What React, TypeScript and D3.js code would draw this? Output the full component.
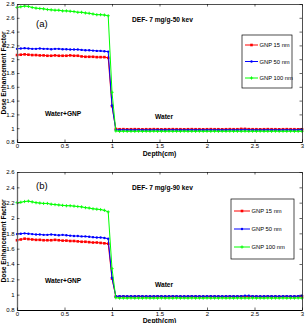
import { useEffect, useRef } from "react";
import * as d3 from "d3";

// depth grid (cm) shared by every series
const depth = [
  0, 0.04, 0.08, 0.12, 0.16, 0.2, 0.24, 0.28, 0.32, 0.36,
  0.4, 0.44, 0.48, 0.52, 0.56, 0.6, 0.64, 0.68, 0.72, 0.76,
  0.8, 0.84, 0.88, 0.92, 0.96,
  1.0,
  1.04, 1.08, 1.12, 1.16, 1.2, 1.24, 1.28, 1.32, 1.36, 1.4,
  1.44, 1.48, 1.52, 1.56, 1.6, 1.64, 1.68, 1.72, 1.76, 1.8,
  1.84, 1.88, 1.92, 1.96, 2.0, 2.04, 2.08, 2.12, 2.16, 2.2,
  2.24, 2.28, 2.32, 2.36, 2.4, 2.44, 2.48, 2.52, 2.56, 2.6,
  2.64, 2.68, 2.72, 2.76, 2.8, 2.84, 2.88, 2.92, 2.96, 3.0,
];

// panel (a): 50 keV
const gnp15A = [
  2.06, 2.065, 2.07, 2.065, 2.06, 2.06, 2.055, 2.055, 2.05, 2.05,
  2.055, 2.05, 2.05, 2.05, 2.055, 2.05, 2.05, 2.04, 2.035, 2.035,
  2.035, 2.03, 2.03, 2.03, 2.02,
  1.32,
  0.99, 0.985, 0.986, 0.984, 0.985, 0.986, 0.985, 0.984, 0.985, 0.985,
  0.986, 0.985, 0.984, 0.985, 0.985, 0.986, 0.985, 0.985, 0.984, 0.985,
  0.986, 0.985, 0.985, 0.984, 0.985, 0.986, 0.985, 0.985, 0.984, 0.985,
  0.986, 0.985, 0.985, 0.99, 0.99, 0.986, 0.985, 0.985, 0.984, 0.985,
  0.986, 0.985, 0.985, 0.984, 0.985, 0.986, 0.985, 0.985, 0.984, 0.985,
];
const gnp50A = [
  2.15, 2.155, 2.16, 2.155, 2.15, 2.15, 2.155, 2.15, 2.15, 2.145,
  2.15, 2.15, 2.145, 2.145, 2.14, 2.14, 2.14, 2.135, 2.13, 2.13,
  2.125, 2.12, 2.12, 2.115, 2.11,
  1.33,
  0.975, 0.975, 0.976, 0.974, 0.975, 0.975, 0.976, 0.975, 0.974, 0.975,
  0.975, 0.976, 0.975, 0.974, 0.975, 0.976, 0.975, 0.975, 0.974, 0.975,
  0.976, 0.975, 0.975, 0.974, 0.975, 0.976, 0.975, 0.975, 0.974, 0.975,
  0.976, 0.975, 0.975, 0.976, 0.978, 0.976, 0.975, 0.975, 0.974, 0.975,
  0.976, 0.975, 0.975, 0.974, 0.975, 0.976, 0.975, 0.975, 0.976, 0.978,
];
const gnp100A = [
  2.75, 2.76, 2.77, 2.765, 2.75, 2.74, 2.735, 2.73, 2.72, 2.715,
  2.71, 2.71, 2.7, 2.7, 2.695, 2.69, 2.68, 2.68, 2.67, 2.665,
  2.655, 2.645, 2.645, 2.64, 2.63,
  1.52,
  0.96, 0.955, 0.957, 0.955, 0.956, 0.955, 0.957, 0.955, 0.956, 0.955,
  0.957, 0.955, 0.956, 0.955, 0.957, 0.955, 0.956, 0.955, 0.957, 0.955,
  0.956, 0.955, 0.957, 0.955, 0.956, 0.955, 0.957, 0.955, 0.956, 0.955,
  0.957, 0.955, 0.956, 0.955, 0.957, 0.955, 0.956, 0.955, 0.957, 0.955,
  0.956, 0.955, 0.957, 0.955, 0.956, 0.955, 0.957, 0.955, 0.956, 0.955,
];

// panel (b): 90 keV
const gnp15B = [
  1.71, 1.72, 1.73, 1.725, 1.72, 1.715, 1.715, 1.71, 1.71, 1.71,
  1.715, 1.71, 1.705, 1.705, 1.7, 1.7, 1.695, 1.69, 1.69, 1.685,
  1.68, 1.68, 1.675, 1.67, 1.665,
  1.21,
  0.975, 0.975, 0.976, 0.974, 0.975, 0.975, 0.976, 0.975, 0.974, 0.975,
  0.975, 0.976, 0.975, 0.974, 0.975, 0.976, 0.975, 0.975, 0.974, 0.975,
  0.976, 0.975, 0.975, 0.974, 0.975, 0.976, 0.975, 0.975, 0.974, 0.975,
  0.976, 0.975, 0.975, 0.976, 0.975, 0.976, 0.975, 0.975, 0.974, 0.975,
  0.976, 0.975, 0.975, 0.974, 0.975, 0.976, 0.975, 0.975, 0.976, 0.975,
];
const gnp50B = [
  1.79, 1.795, 1.8, 1.795, 1.79, 1.785, 1.785, 1.78, 1.78, 1.785,
  1.78, 1.775, 1.78, 1.775, 1.77, 1.765, 1.765, 1.76, 1.76, 1.755,
  1.75, 1.745, 1.745, 1.74, 1.73,
  1.22,
  0.98, 0.98, 0.981, 0.979, 0.98, 0.98, 0.981, 0.98, 0.979, 0.98,
  0.98, 0.981, 0.98, 0.979, 0.98, 0.981, 0.98, 0.98, 0.979, 0.98,
  0.981, 0.98, 0.98, 0.979, 0.98, 0.981, 0.98, 0.98, 0.979, 0.98,
  0.981, 0.98, 0.98, 0.981, 0.985, 0.985, 0.98, 0.98, 0.979, 0.98,
  0.981, 0.98, 0.98, 0.979, 0.98, 0.981, 0.98, 0.98, 0.981, 0.985,
];
const gnp100B = [
  2.2, 2.205, 2.215, 2.22, 2.21, 2.2, 2.195, 2.19, 2.19, 2.18,
  2.175, 2.17, 2.165, 2.16, 2.16, 2.155, 2.15, 2.145, 2.135, 2.13,
  2.12, 2.115, 2.11, 2.1, 2.08,
  1.34,
  0.96, 0.955, 0.956, 0.955, 0.957, 0.955, 0.956, 0.955, 0.957, 0.955,
  0.956, 0.955, 0.957, 0.955, 0.956, 0.955, 0.957, 0.955, 0.956, 0.955,
  0.957, 0.955, 0.956, 0.955, 0.957, 0.955, 0.956, 0.955, 0.957, 0.955,
  0.956, 0.955, 0.957, 0.955, 0.956, 0.955, 0.957, 0.955, 0.956, 0.955,
  0.957, 0.955, 0.956, 0.955, 0.957, 0.955, 0.956, 0.955, 0.957, 0.955,
];

const seriesNames = ["GNP 15 nm", "GNP 50 nm", "GNP 100 nm"];
const xTicks = [0, 0.5, 1, 1.5, 2, 2.5, 3];
const yTicksA = [0.8, 1, 1.2, 1.4, 1.6, 1.8, 2, 2.2, 2.4, 2.6, 2.8];
const yTicksB = [0.8, 1, 1.2, 1.4, 1.6, 1.8, 2, 2.2, 2.4, 2.6];

const COLORS = ["#ff0000", "#0000ff", "#00ff00"];
const FONT = "'Liberation Sans', Arial, Helvetica, sans-serif";
const W = 306;
const H = 323;

type Marker = "square" | "dot" | "plus";
const MARKERS: Marker[] = ["square", "dot", "plus"];

interface PanelSpec {
  tag: string;
  title: string;
  series: number[][];
  yTicks: number[];
  top: number;
  bottom: number;
  legend: { x: number; y: number; w: number; h: number; rowGap: number; lineLen: number };
  tagY: number;
  titleY: number;
  gnpLabelY: number;
  waterLabelY: number;
  depthLabelY: number;
}

const PANELS: PanelSpec[] = [
  {
    tag: "(a)",
    title: "DEF- 7 mg/g-50 kev",
    series: [gnp15A, gnp50A, gnp100A],
    yTicks: yTicksA,
    top: 4,
    bottom: 142,
    legend: { x: 242, y: 35, w: 50, h: 53, rowGap: 16.5, lineLen: 13 },
    tagY: 27,
    titleY: 22,
    gnpLabelY: 116,
    waterLabelY: 119,
    depthLabelY: 155.5,
  },
  {
    tag: "(b)",
    title: "DEF- 7 mg/g-90 kev",
    series: [gnp15B, gnp50B, gnp100B],
    yTicks: yTicksB,
    top: 172,
    bottom: 310,
    legend: { x: 231, y: 199, w: 63, h: 60, rowGap: 18, lineLen: 16 },
    tagY: 189,
    titleY: 190,
    gnpLabelY: 283,
    waterLabelY: 287,
    depthLabelY: 323,
  },
];

const LEFT = 17;
const RIGHT = 302;

function drawMarker(
  g: d3.Selection<SVGGElement, unknown, null, undefined>,
  kind: Marker,
  cx: number,
  cy: number,
  color: string
) {
  if (kind === "square") {
    g.append("rect")
      .attr("x", cx - 1.3).attr("y", cy - 1.3)
      .attr("width", 2.6).attr("height", 2.6)
      .attr("fill", color);
  } else if (kind === "dot") {
    g.append("circle")
      .attr("cx", cx).attr("cy", cy).attr("r", 1.2)
      .attr("fill", color);
  } else {
    g.append("path")
      .attr("d", `M${cx - 1.6},${cy}H${cx + 1.6}M${cx},${cy - 1.6}V${cy + 1.6}`)
      .attr("stroke", color)
      .attr("stroke-width", 0.9);
  }
}

function drawPanel(root: d3.Selection<SVGGElement, unknown, null, undefined>, p: PanelSpec) {
  const x = d3.scaleLinear().domain([0, 3]).range([LEFT, RIGHT]);
  const y = d3.scaleLinear().domain([0.8, p.yTicks[p.yTicks.length - 1]]).range([p.bottom, p.top]);

  const g = root.append("g");

  g.append("rect")
    .attr("x", LEFT).attr("y", p.top)
    .attr("width", RIGHT - LEFT).attr("height", p.bottom - p.top)
    .attr("fill", "#fff");

  // series lines + markers
  const plot = g.append("g");
  p.series.forEach((vals, si) => {
    const pts = depth.map((d, i) => [d, vals[i]] as [number, number]);
    const line = d3.line<[number, number]>()
      .x((d) => x(d[0]))
      .y((d) => y(d[1]));
    plot.append("path")
      .attr("d", line(pts))
      .attr("fill", "none")
      .attr("stroke", COLORS[si])
      .attr("stroke-width", 1);
    const mg = plot.append("g");
    pts.forEach((d) => drawMarker(mg, MARKERS[si], x(d[0]), y(d[1]), COLORS[si]));
  });

  // axes: MATLAB-style inward ticks on all four sides
  const tickStyle = (stroke: string, width: number) =>
    (sel: d3.Selection<SVGGElement, unknown, null, undefined>) => {
      sel.select(".domain").attr("stroke", stroke).attr("stroke-width", width);
      sel.selectAll(".tick line").attr("stroke", "#000").attr("stroke-width", 0.6);
      sel.selectAll("text")
        .attr("fill", "#000")
        .attr("font-size", 6)
        .attr("font-family", FONT);
    };

  g.append("g")
    .attr("transform", `translate(0,${p.top})`)
    .call(d3.axisTop(x).tickValues(xTicks).tickSizeInner(-2.5).tickSizeOuter(0).tickFormat(() => ""))
    .call(tickStyle("#222", 0.8));
  g.append("g")
    .attr("transform", `translate(${RIGHT},0)`)
    .call(d3.axisRight(y).tickValues(p.yTicks).tickSizeInner(-2.5).tickSizeOuter(0).tickFormat(() => ""))
    .call(tickStyle("#222", 0.8));
  g.append("g")
    .attr("transform", `translate(${LEFT},0)`)
    .call(d3.axisLeft(y).tickValues(p.yTicks).tickSizeInner(-2.5).tickSizeOuter(0).tickPadding(2.5)
      .tickFormat((d) => String(+Number(d).toFixed(1))))
    .call(tickStyle("#666", 1.3));
  g.append("g")
    .attr("transform", `translate(0,${p.bottom})`)
    .call(d3.axisBottom(x).tickValues(xTicks).tickSizeInner(-2.5).tickSizeOuter(0).tickPadding(1.8)
      .tickFormat((d) => String(d)))
    .call(tickStyle("#000", 1));

  // annotations
  const bold = (tx: number, ty: number, text: string, size = 6.6) =>
    g.append("text")
      .attr("x", tx).attr("y", ty)
      .attr("font-size", size).attr("font-weight", "bold").attr("font-family", FONT)
      .text(text);

  g.append("text")
    .attr("x", 36).attr("y", p.tagY)
    .attr("font-size", 9.5).attr("font-family", FONT)
    .text(p.tag);
  bold(132, p.titleY, p.title);
  bold(45, p.gnpLabelY, "Water+GNP");
  bold(155, p.waterLabelY, "Water");
  bold((LEFT + RIGHT) / 2, p.depthLabelY, "Depth(cm)", 6.8).attr("text-anchor", "middle");
  g.append("text")
    .attr("transform", `translate(5.5,${(p.top + p.bottom) / 2}) rotate(-90)`)
    .attr("text-anchor", "middle")
    .attr("font-size", 6.6).attr("font-weight", "bold").attr("font-family", FONT)
    .text("Dose Enhancement Factor");

  // legend
  const L = p.legend;
  const lg = g.append("g");
  lg.append("rect")
    .attr("x", L.x).attr("y", L.y).attr("width", L.w).attr("height", L.h)
    .attr("fill", "#fff").attr("stroke", "#000").attr("stroke-width", 0.7);
  seriesNames.forEach((name, i) => {
    const cy = L.y + L.h / 2 + (i - 1) * L.rowGap;
    const x0 = L.x + 3;
    lg.append("line")
      .attr("x1", x0).attr("x2", x0 + L.lineLen)
      .attr("y1", cy).attr("y2", cy)
      .attr("stroke", COLORS[i]).attr("stroke-width", 1);
    drawMarker(lg, MARKERS[i], x0 + L.lineLen / 2, cy, COLORS[i]);
    lg.append("text")
      .attr("x", x0 + L.lineLen + 1.5).attr("y", cy + 2)
      .attr("font-size", 5.8).attr("font-family", FONT)
      .text(name);
  });
}

export default function App() {
  const svgRef = useRef<SVGSVGElement>(null);

  useEffect(() => {
    if (!svgRef.current) return;
    const svg = d3.select(svgRef.current);
    svg.selectAll("*").remove();
    const root = svg.append("g") as unknown as d3.Selection<SVGGElement, unknown, null, undefined>;
    PANELS.forEach((p) => drawPanel(root, p));
  }, []);

  return (
    <svg
      ref={svgRef}
      width={W}
      height={H}
      style={{ position: "absolute", left: 0, top: 0, background: "#fff" }}
    />
  );
}
